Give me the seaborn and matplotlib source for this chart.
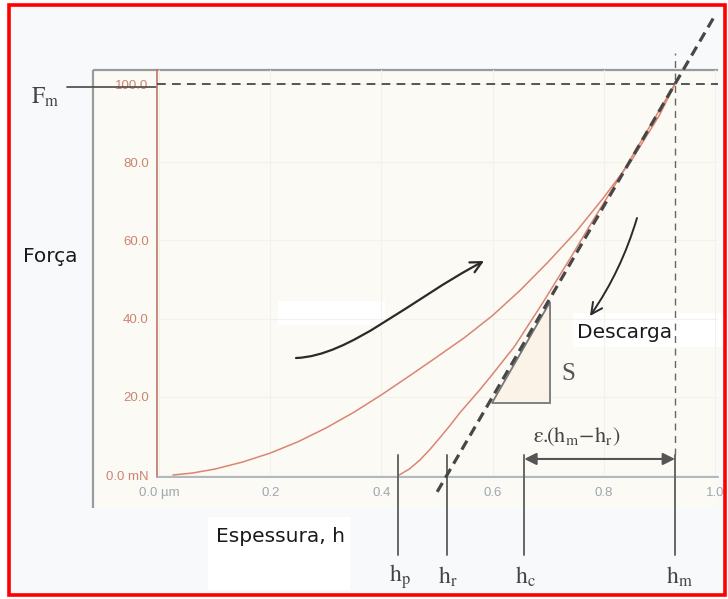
import numpy as np
import pandas as pd
import matplotlib
matplotlib.use("Agg")
import matplotlib.pyplot as plt
import seaborn as sns
from matplotlib.patches import Rectangle, Polygon, FancyArrowPatch
from matplotlib.path import Path
from matplotlib import font_manager

# ---------------- data ----------------
load_h = [0.025, 0.06, 0.10, 0.15, 0.20, 0.25, 0.30, 0.35, 0.40, 0.45, 0.50,
          0.55, 0.60, 0.65, 0.70, 0.75, 0.80, 0.85, 0.90, 0.928]
load_F = [0.0, 0.5, 1.5, 3.3, 5.6, 8.5, 12.0, 16.0, 20.5, 25.3, 30.2,
          35.2, 40.8, 47.3, 54.5, 62.2, 71.0, 80.5, 92.0, 100.0]
unload_h = [0.928, 0.88, 0.83, 0.78, 0.74, 0.69, 0.64, 0.60, 0.577, 0.56,
            0.541, 0.523, 0.505, 0.487, 0.469, 0.45, 0.432]
unload_F = [100.0, 88.5, 76.5, 65.0, 55.5, 44.0, 33.0, 25.8, 21.8, 19.0,
            15.9, 12.6, 9.5, 6.5, 3.8, 1.5, 0.0]
h_p, h_r, h_c, h_m = 0.43, 0.518, 0.657, 0.928
F_m = 100.0
y_ticks = [0, 20, 40, 60, 80, 100]
y_ticklabels = ["0.0 mN", "20.0", "40.0", "60.0", "80.0", "100.0"]
x_ticks = [0.0, 0.2, 0.4, 0.6, 0.8, 1.0]
x_ticklabels = ["0.0 \u00b5m", "0.2", "0.4", "0.6", "0.8", "1.0"]
h_labels = [r"$\mathrm{h_p}$", r"$\mathrm{h_r}$", r"$\mathrm{h_c}$", r"$\mathrm{h_m}$"]

# ---------------- style ----------------
sns.set_style("white")
plt.rcParams['font.family'] = ['DejaVu Sans']
plt.rcParams['mathtext.fontset'] = 'stix'
names = {f.name for f in font_manager.fontManager.ttflist}
tick_font = 'Liberation Sans Narrow' if 'Liberation Sans Narrow' in names else 'Liberation Sans'

W, H = 728, 599
fig = plt.figure(figsize=(W / 100, H / 100), dpi=100, facecolor='white')

# background layer (pixel coordinates)
bg = fig.add_axes([0, 0, 1, 1], zorder=0)
bg.set_xlim(0, W); bg.set_ylim(H, 0); bg.axis('off')
bg.add_patch(Rectangle((10, 6), 715, 589, facecolor='#f8f9fb', edgecolor='none'))
bg.add_patch(Rectangle((93, 70), 625, 438, facecolor='#fbfaf5', edgecolor='none'))
bg.plot([93, 93], [70, 508], color='#9b9b9b', lw=1.6, solid_capstyle='butt')
bg.plot([93, 718], [70, 70], color='#9b9b9b', lw=1.6, solid_capstyle='butt')
for (x, y, w, h) in [(278, 301, 107, 24), (573, 313, 152, 34), (208, 517, 142, 73)]:
    bg.add_patch(Rectangle((x, y), w, h, facecolor='white', edgecolor='none'))

# main chart axes
ax = fig.add_axes([157 / W, 1 - 477 / H, (718 - 157) / W, (477 - 70) / H], zorder=1)
ax.patch.set_alpha(0)
ax.set_xlim((157 - 159) / 556, (718 - 159) / 556)
ax.set_ylim((475 - 477) / 3.91, (475 - 70) / 3.91)

df_load = pd.DataFrame({"h": load_h, "F": load_F})
df_unload = pd.DataFrame({"h": unload_h, "F": unload_F})
sns.lineplot(data=df_load, x="h", y="F", ax=ax, color='#da8572', lw=1.1,
             estimator=None, sort=False)
sns.lineplot(data=df_unload, x="h", y="F", ax=ax, color='#da8572', lw=1.1,
             estimator=None, sort=False)

for s in ['top', 'right']:
    ax.spines[s].set_visible(False)
ax.spines['left'].set_color('#c27562'); ax.spines['left'].set_linewidth(1.2)
ax.spines['bottom'].set_color('#a3adb5'); ax.spines['bottom'].set_linewidth(1.2)
ax.set_xticks(x_ticks, x_ticklabels)
ax.set_yticks(y_ticks, y_ticklabels)
ax.set_xticks([0.1, 0.3, 0.5, 0.7, 0.9], minor=True)
ax.set_yticks([10, 30, 50, 70, 90], minor=True)
ax.tick_params(axis='y', which='major', direction='out', length=5, width=1,
               color='#c27562', labelcolor='#cc8470', labelsize=9.5, pad=1)
ax.tick_params(axis='y', which='minor', direction='out', length=2.5, width=1, color='#c27562')
ax.tick_params(axis='x', which='major', direction='out', length=3, width=1,
               color='#a3adb5', labelcolor='#9ea7af', labelsize=9.5, pad=4)
ax.tick_params(axis='x', which='minor', direction='out', length=2, width=1, color='#a3adb5')
for lab in ax.get_xticklabels() + ax.get_yticklabels():
    lab.set_fontfamily(tick_font)
ax.set_xlabel(""); ax.set_ylabel("")
ax.grid(True, color='#f2f1eb', lw=0.8)

# reference lines
ax.plot([ax.get_xlim()[0], ax.get_xlim()[1]], [F_m, F_m], color='#555555', lw=1.4,
        dashes=(4.5, 3.2), clip_on=False, zorder=4)
ax.plot([h_m, h_m], [5.0, 107.9], color='#666666', lw=1.0, dashes=(5, 4),
        clip_on=False, zorder=4)
ax.plot([(67 - 159) / 556, -0.006], [99.2, 99.2], color='#555555', lw=1.3, clip_on=False)

# tangent (contact stiffness) line through h_r and (h_m, F_m)
k = F_m / (h_m - h_r)
F_ext = np.array([-4.3, 117.4])
ax.plot(h_r + F_ext / k, F_ext, color='#474747', lw=2.3, dashes=(3.2, 1.9),
        clip_on=False, zorder=6)

# vertical markers and labels below the axis
for hv, lab in zip([h_p, h_r, h_c, h_m], h_labels):
    ax.plot([hv, hv], [5.2, -20.5], color='#666666', lw=1.4, clip_on=False, zorder=5)
    ax.text(hv - 0.017, -26.0, lab, fontsize=17, color='#444444', ha='left',
            va='center', clip_on=False)

# epsilon arrow
ax.annotate('', xy=(h_c, 4.1), xytext=(h_m, 4.1), annotation_clip=False,
            arrowprops=dict(arrowstyle='<|-|>', color='#555555', lw=1.5,
                            mutation_scale=18, shrinkA=0, shrinkB=0))
ax.text(0.752, 9.8, r"$\mathrm{\varepsilon.}\!\!(\mathrm{h_m}\!-\!\mathrm{h_r})$", fontsize=16,
        color='#444444', ha='center', va='center')

# stiffness triangle
tri = Polygon([(0.599, 18.4), (0.703, 18.4), (0.703, 44.2)], closed=True,
              facecolor='#fbf3e8', edgecolor='#777777', lw=1.3, zorder=3)
ax.add_patch(tri)

# top overlay (pixel coordinates)
top = fig.add_axes([0, 0, 1, 1], zorder=3)
top.set_xlim(0, W); top.set_ylim(H, 0); top.axis('off'); top.patch.set_alpha(0)

p1 = Path([(296, 358), (350, 356), (410, 300), (484, 261)],
          [Path.MOVETO, Path.CURVE4, Path.CURVE4, Path.CURVE4])
top.add_patch(FancyArrowPatch(path=p1, arrowstyle='->', mutation_scale=20,
                              color='#2a2a2a', lw=1.6))
top.add_patch(FancyArrowPatch((637, 218), (590, 316), arrowstyle='->',
                              connectionstyle='arc3,rad=-0.08', mutation_scale=20,
                              color='#2a2a2a', lw=1.4, shrinkA=0, shrinkB=0))

top.text(45, 97, r"$\mathrm{F_m}$", fontsize=17, color='#444444', ha='center', va='center')
top.text(50, 256, "Força", fontsize=14.5, color='#1a1a1a', ha='center', va='center')
top.text(280, 537, "Espessura, h", fontsize=14.5, color='#1a1a1a', ha='center', va='center')
top.text(625, 333, "Descarga", fontsize=14.5, color='#1a1a1a', ha='center', va='center')
top.text(568, 374, "S", fontsize=18, color='#555555', ha='center', va='center',
         family='Liberation Serif')

top.add_patch(Rectangle((9, 5), 716, 590, fill=False, edgecolor='#ff0000', lw=2.6))

fig.savefig("out.png", dpi=100, facecolor='white')
